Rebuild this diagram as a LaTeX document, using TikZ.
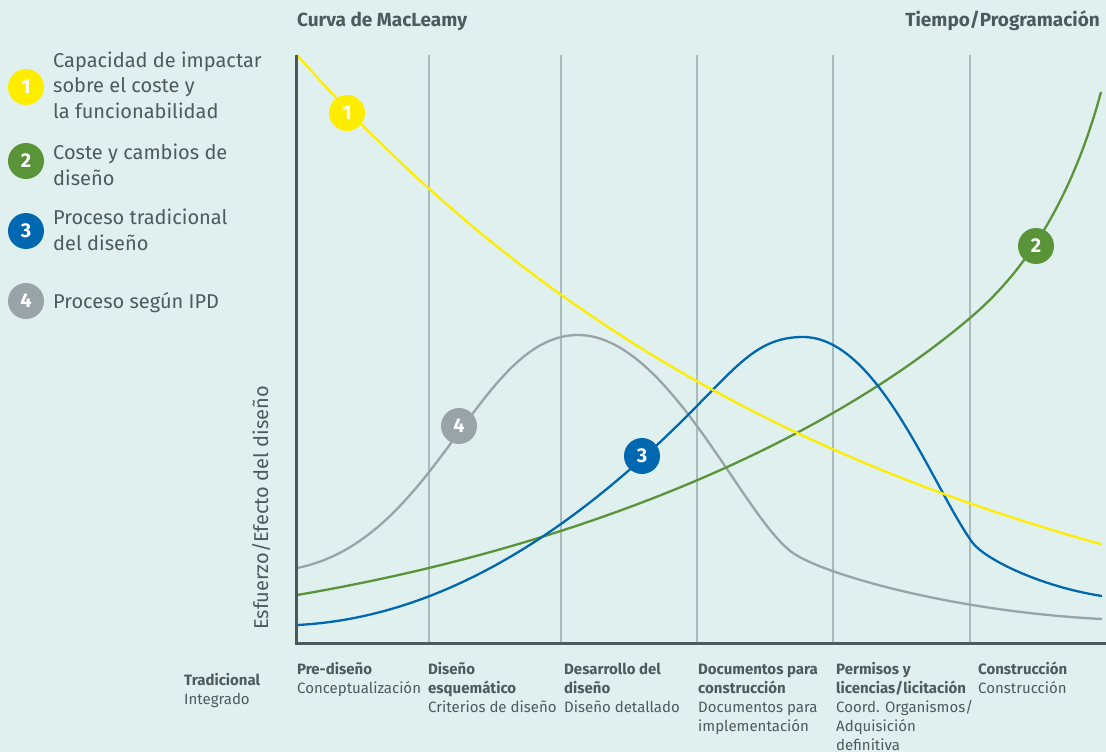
\documentclass[tikz,border=0pt]{standalone}
\usepackage{fontspec}
\setmainfont{Fira Sans}
\definecolor{bgc}{HTML}{DFF0EE}
\definecolor{txtc}{HTML}{4D5A5E}
\definecolor{axisc}{HTML}{4B5A5D}
\definecolor{gridc}{HTML}{A9BBBC}
\definecolor{yel}{HTML}{FFED00}
\definecolor{grn}{HTML}{5A9438}
\definecolor{blu}{HTML}{0068B0}
\definecolor{gry}{HTML}{98A4A8}
\tikzset{
  gridline/.style={draw=gridc, line width=1.4pt},
  axisline/.style={draw=axisc, line width=3pt},
  curve/.style={line width=2.3pt},
  badge/.style={circle, minimum size=36pt, inner sep=0pt, text=white,
    font=\bfseries\fontsize{20}{20}\selectfont},
  legtext/.style={anchor=base west, inner sep=0pt, align=left, text=txtc,
    font=\fontsize{20}{25.5}\selectfont},
  headtext/.style={inner sep=0pt, text=txtc, font=\bfseries\fontsize{19}{19}\selectfont},
  phase/.style={anchor=base west, inner sep=0pt, align=left, text=txtc,
    font=\fontsize{15}{19}\selectfont},
}
\begin{document}
\begin{tikzpicture}[x=1pt,y=-1pt]
\fill[bgc] (0,0) rectangle (1106,752);
\useasboundingbox (0,0) rectangle (1106,752);

% headers
\node[headtext, anchor=base west] (h1) at (297,26.7) {Curva de MacLeamy};
\node[headtext, anchor=base east] (h2) at (1100,26.7) {Tiempo/Programación};

% grid
\foreach \gx in {429,561,697,833,970}
  \draw[gridline] (\gx,55) -- (\gx,643);

% curves
\draw[curve, draw=gry] (297,568) .. controls (437,540) and (478,335) .. (578,335)
  .. controls (668,335) and (743,518) .. (793,553)
  .. controls (823,574) and (952,611.5) .. (1102,619);
\draw[curve, draw=grn] (297,595) .. controls (577,547.4) and (820,445.5) .. (970,318)
  .. controls (1000,292.5) and (1063.2,232) .. (1101,92);
\draw[curve, draw=blu] (297,625) .. controls (447,617.5) and (578,525) .. (688,415)
  .. controls (738,365) and (758,337) .. (803,337)
  .. controls (878,337) and (932,486) .. (972,542)
  .. controls (984,558.8) and (1040,586.5) .. (1102,596);
\draw[curve, draw=yel, domain=297:1101, samples=120] plot (\x, {702-647*exp(-(\x-297)/570)});

% axes
\draw[axisline] (296,55) -- (296,643) -- (1106,643);

% badges on curves
\node[badge, fill=yel] (b1) at (347,113) {1};
\node[badge, fill=grn] (b2) at (1036,246) {2};
\node[badge, fill=blu] (b3) at (642,456) {3};
\node[badge, fill=gry] (b4) at (459,426) {4};

% legend
\node[badge, fill=yel] (l1) at (26,87) {1};
\node[badge, fill=grn] (l2) at (26,161) {2};
\node[badge, fill=blu] (l3) at (26,231) {3};
\node[badge, fill=gry] (l4) at (26,301) {4};
\node[legtext] (t1) at (53,118.3) {Capacidad de impactar\\sobre el coste y\\la funcionabilidad};
\node[legtext] (t2) at (53,185) {Coste y cambios de\\diseño};
\node[legtext] (t3) at (53,250) {Proceso tradicional\\del diseño};
\node[legtext] (t4) at (53,308.3) {Proceso según IPD};

% y label
\node[rotate=90, anchor=base, inner sep=0pt, text=txtc, font=\fontsize{20}{20}\selectfont] (ylab) at (268,508) {Esfuerzo/Efecto del diseño};

% phases (anchored at the baseline of the last line)
\node[phase] (p0) at (184,704) {\textbf{Tradicional}\\Integrado};
\node[phase] (p1) at (297,693) {\textbf{Pre-diseño}\\Conceptualización};
\node[phase] (p2) at (428,712) {\textbf{Diseño}\\\textbf{esquemático}\\Criterios de diseño};
\node[phase] (p3) at (564,712) {\textbf{Desarrollo del}\\\textbf{diseño}\\Diseño detallado};
\node[phase] (p4) at (698,731) {\textbf{Documentos para}\\\textbf{construcción}\\Documentos para\\implementación};
\node[phase] (p5) at (836,750) {\textbf{Permisos y}\\\textbf{licencias/licitación}\\Coord. Organismos/\\Adquisición\\definitiva};
\node[phase] (p6) at (978,693) {\textbf{Construcción}\\Construcción};
\end{tikzpicture}
\end{document}
